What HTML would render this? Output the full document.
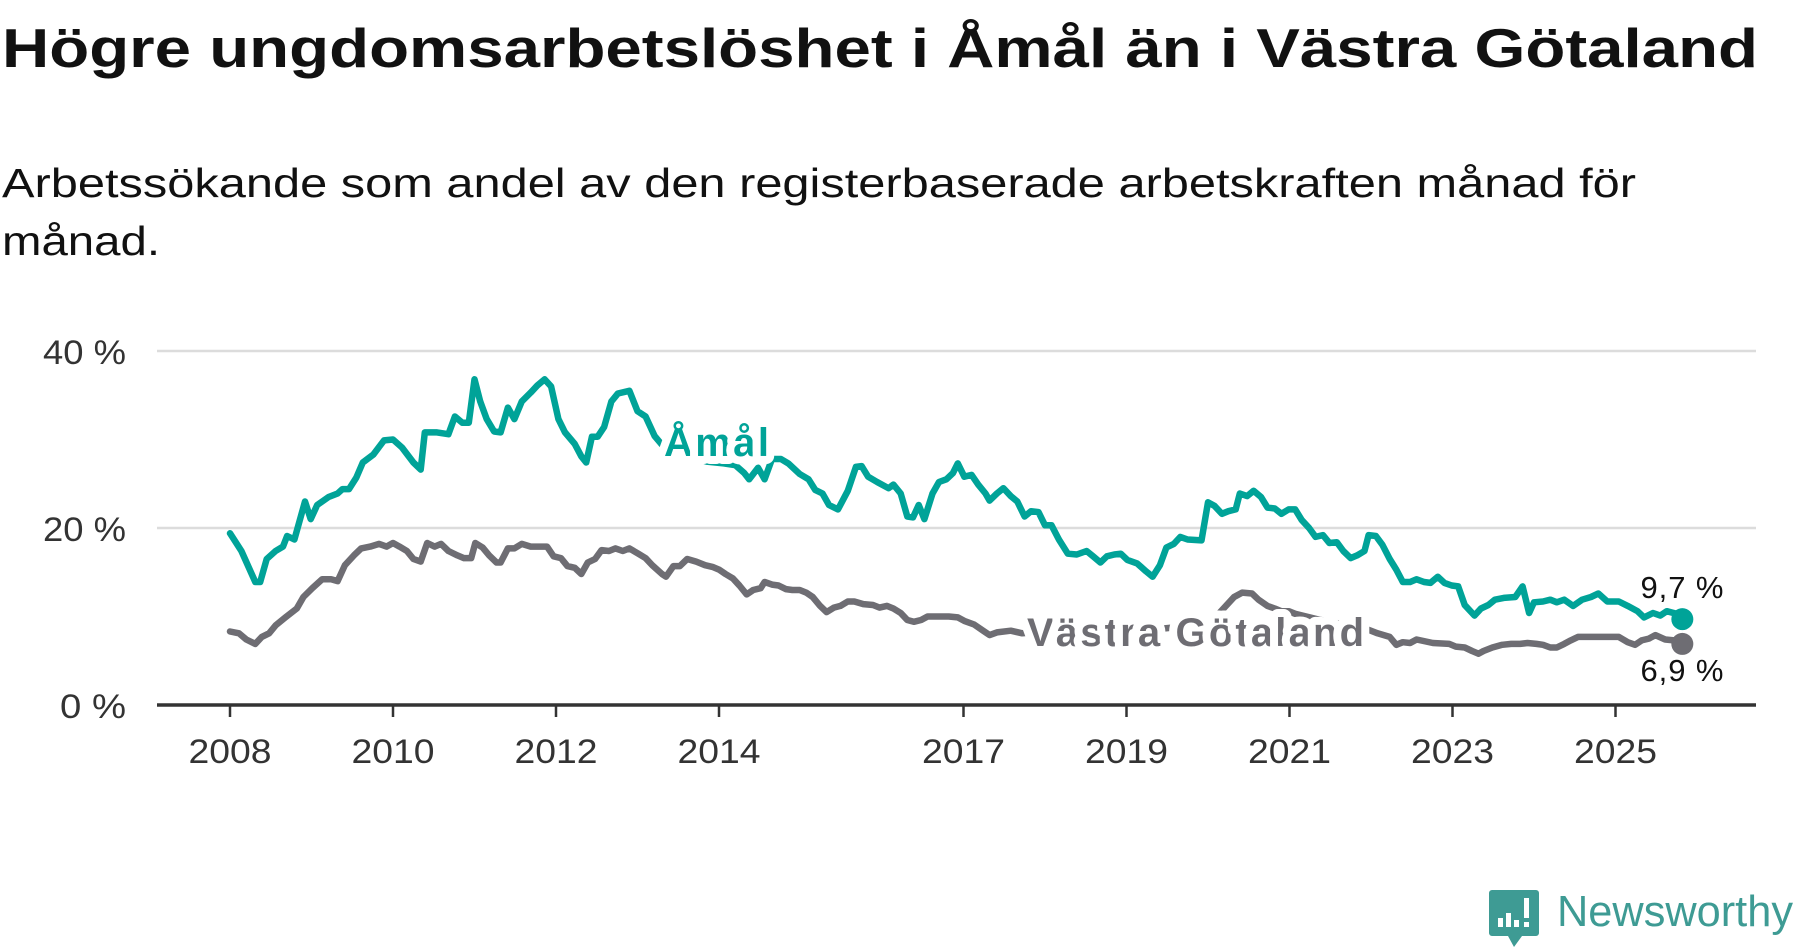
<!DOCTYPE html>
<html><head><meta charset="utf-8"><style>
html,body{margin:0;padding:0;background:#fff;width:1800px;height:948px;overflow:hidden}
text{font-family:"Liberation Sans","DejaVu Sans",sans-serif}
</style></head><body>
<svg id="chart" width="1800" height="948" viewBox="0 0 1800 948">
<text x="2" y="67" font-size="55" font-weight="bold" fill="#111" textLength="1756" lengthAdjust="spacingAndGlyphs">Högre ungdomsarbetslöshet i Åmål än i Västra Götaland</text>
<text x="2" y="197" font-size="41" fill="#111" textLength="1634" lengthAdjust="spacingAndGlyphs">Arbetssökande som andel av den registerbaserade arbetskraften månad för</text>
<text x="2" y="255" font-size="41" fill="#111" textLength="158" lengthAdjust="spacingAndGlyphs">månad.</text>
<g id="grid"></g><g id="axes"></g><g id="series"></g><g id="labels"></g>
<g>
<path d="M1492 890 h44 a3 3 0 0 1 3 3 v40 a3 3 0 0 1 -3 3 h-14 l-8 11 l-6 -11 h-16 a3 3 0 0 1 -3 -3 v-40 a3 3 0 0 1 3 -3z" fill="#3e9b94"/>
<rect x="1498" y="918" width="5" height="9" fill="#fff"/><rect x="1506" y="913" width="5" height="14" fill="#fff"/><rect x="1514" y="920" width="5" height="7" fill="#fff"/><rect x="1524" y="898" width="5" height="20" fill="#fff"/><rect x="1524" y="922" width="5" height="5" fill="#fff"/>
<text x="1557" y="926" font-size="44" fill="#3e9b94" textLength="236" lengthAdjust="spacingAndGlyphs">Newsworthy</text>
</g>
</svg>
<script>
const yearTicks = [2008, 2010, 2012, 2014, 2017, 2019, 2021, 2023, 2025];
const yTicks = [0, 20, 40];
const amalT = [0.00,0.14,0.31,0.37,0.45,0.56,0.65,0.70,0.79,0.92,0.99,1.07,1.21,1.32,1.38,1.46,1.55,1.63,1.76,1.89,2.00,2.11,2.25,2.34,2.39,2.54,2.68,2.76,2.85,2.93,3.00,3.07,3.15,3.24,3.32,3.41,3.49,3.58,3.69,3.77,3.86,3.94,4.03,4.11,4.23,4.31,4.37,4.44,4.51,4.59,4.68,4.76,4.90,5.00,5.10,5.21,5.30,5.42,5.63,5.85,6.06,6.20,6.31,6.37,6.48,6.56,6.65,6.76,6.85,6.99,7.10,7.18,7.27,7.35,7.46,7.58,7.68,7.75,7.83,7.94,8.08,8.14,8.23,8.31,8.38,8.45,8.52,8.62,8.70,8.79,8.87,8.93,9.01,9.10,9.18,9.27,9.32,9.41,9.49,9.58,9.66,9.75,9.83,9.92,10.00,10.08,10.17,10.28,10.39,10.51,10.59,10.68,10.76,10.85,10.93,11.01,11.13,11.24,11.32,11.41,11.49,11.58,11.66,11.75,11.92,12.00,12.08,12.17,12.25,12.34,12.39,12.48,12.56,12.65,12.73,12.82,12.90,12.99,13.07,13.15,13.24,13.32,13.41,13.49,13.58,13.66,13.75,13.83,13.92,13.97,14.06,14.14,14.23,14.31,14.39,14.48,14.56,14.65,14.73,14.82,14.90,14.99,15.07,15.15,15.27,15.35,15.44,15.52,15.63,15.77,15.86,15.94,16.00,16.11,16.20,16.28,16.37,16.48,16.59,16.70,16.79,16.90,17.04,17.15,17.27,17.35,17.46,17.55,17.63,17.75,17.82];
const amalV = [19.4,17.4,13.9,13.9,16.5,17.4,17.9,19.1,18.7,23.0,21.0,22.6,23.5,23.9,24.4,24.4,25.7,27.4,28.3,29.9,30.0,29.1,27.4,26.6,30.8,30.8,30.6,32.6,31.9,31.9,36.8,34.3,32.3,30.9,30.8,33.6,32.3,34.3,35.3,36.1,36.8,36.0,32.3,30.8,29.5,28.1,27.4,30.3,30.3,31.4,34.3,35.2,35.5,33.2,32.6,30.4,29.4,28.6,28.1,27.5,27.3,27.1,26.2,25.5,26.8,25.5,27.8,27.8,27.3,26.1,25.5,24.3,23.9,22.6,22.1,24.2,26.9,27.0,25.8,25.2,24.5,24.9,23.9,21.3,21.2,22.6,21.0,23.9,25.2,25.5,26.2,27.3,25.8,26.0,24.9,23.9,23.1,23.9,24.5,23.6,23.0,21.3,21.9,21.8,20.3,20.3,18.7,17.1,17.0,17.4,16.8,16.1,16.8,17.0,17.1,16.4,16.0,15.1,14.5,15.8,17.8,18.2,19.0,18.7,18.6,22.9,22.5,21.6,21.9,22.1,23.9,23.6,24.2,23.5,22.3,22.2,21.6,22.1,22.1,20.9,20.0,19.0,19.2,18.3,18.4,17.4,16.6,16.9,17.4,19.2,19.1,18.1,16.5,15.3,13.9,13.9,14.2,13.9,13.8,14.5,13.8,13.5,13.4,11.3,10.1,10.9,11.3,11.9,12.1,12.2,13.4,10.4,11.6,11.7,11.9,11.6,11.9,11.2,11.9,12.2,12.6,11.7,11.7,11.2,10.6,9.9,10.4,10.1,10.6,10.3,9.7];
const vgT = [0.00,0.11,0.20,0.31,0.39,0.48,0.56,0.68,0.82,0.90,1.01,1.13,1.24,1.32,1.41,1.52,1.61,1.72,1.83,1.92,2.00,2.08,2.17,2.25,2.34,2.42,2.51,2.59,2.68,2.79,2.87,2.96,3.01,3.10,3.18,3.27,3.32,3.41,3.49,3.58,3.69,3.89,3.97,4.06,4.14,4.23,4.31,4.39,4.48,4.56,4.65,4.73,4.82,4.90,5.01,5.10,5.18,5.30,5.35,5.44,5.52,5.61,5.72,5.83,5.92,6.00,6.08,6.17,6.25,6.34,6.42,6.51,6.56,6.65,6.73,6.82,6.90,6.99,7.07,7.15,7.24,7.32,7.41,7.49,7.58,7.66,7.77,7.89,7.97,8.06,8.14,8.23,8.31,8.39,8.48,8.56,8.82,8.93,9.01,9.13,9.24,9.32,9.41,9.58,9.72,9.86,10.28,10.70,11.13,11.41,11.83,12.11,12.32,12.42,12.54,12.62,12.73,12.82,12.90,12.99,13.07,13.38,13.66,13.94,14.08,14.23,14.31,14.39,14.48,14.56,14.76,14.96,15.04,15.15,15.24,15.32,15.38,15.49,15.61,15.72,15.83,15.92,16.03,16.11,16.20,16.28,16.37,16.45,16.54,16.76,17.04,17.15,17.24,17.32,17.41,17.49,17.61,17.72,17.82];
const vgV = [8.3,8.1,7.4,6.9,7.7,8.1,9.0,9.9,10.9,12.2,13.2,14.2,14.2,14.0,15.8,16.9,17.7,17.9,18.2,17.9,18.3,17.9,17.4,16.5,16.2,18.3,17.9,18.2,17.4,16.9,16.6,16.6,18.3,17.8,16.9,16.1,16.1,17.7,17.7,18.2,17.9,17.9,16.8,16.6,15.7,15.5,14.8,16.1,16.5,17.5,17.4,17.7,17.4,17.7,17.1,16.6,15.8,14.8,14.5,15.7,15.7,16.5,16.2,15.8,15.6,15.3,14.8,14.3,13.5,12.5,13.0,13.2,13.9,13.6,13.5,13.1,13.0,13.0,12.7,12.2,11.2,10.5,11.0,11.2,11.7,11.7,11.4,11.3,11.0,11.2,10.9,10.4,9.6,9.4,9.6,10.0,10.0,9.9,9.5,9.1,8.4,7.9,8.2,8.4,8.1,8.2,8.1,8.3,8.2,8.6,9.0,10.1,12.2,12.7,12.6,11.9,11.2,10.9,10.6,10.6,10.3,9.6,9.1,8.6,8.1,7.7,6.8,7.1,7.0,7.4,7.0,6.9,6.6,6.5,6.1,5.8,6.1,6.5,6.8,6.9,6.9,7.0,6.9,6.8,6.5,6.5,6.9,7.3,7.7,7.7,7.7,7.1,6.8,7.3,7.5,7.9,7.4,7.3,6.9];
const endLabels = ["9,7 %", "6,9 %"];

const NS='http://www.w3.org/2000/svg';
const X0=157, X1=1756;
function xs(t){return 230 + t*81.5;}
function ys(v){return 705 - v*8.85;}
function mk(tag, attrs, parent){const e=document.createElementNS(NS,tag);for(const k in attrs)e.setAttribute(k,attrs[k]);parent.appendChild(e);return e;}
const grid=document.getElementById('grid'), axes=document.getElementById('axes'), series=document.getElementById('series'), labels=document.getElementById('labels');
yTicks.forEach(v=>{
  if(v>0){const g=mk('line',{x1:X0,x2:X1,y1:ys(v),y2:ys(v),stroke:'#dcdcdc','stroke-width':2.5},grid);
  
  }
  const t=mk('text',{x:126,y:ys(v)+13,'font-size':34,fill:'#333','text-anchor':'end',textLength:(v===0?66:83),lengthAdjust:'spacingAndGlyphs'},axes);
  t.textContent=v+' %';
  
  
});
const ax=mk('line',{x1:X0,x2:X1,y1:705,y2:705,stroke:'#333','stroke-width':3.5},axes);


yearTicks.forEach(y=>{
  const x=xs(y-2008);
  const tk=mk('line',{x1:x,x2:x,y1:705,y2:717,stroke:'#333','stroke-width':2.5},axes);
  
  
  const t=mk('text',{x:x,y:763,'font-size':34,fill:'#333','text-anchor':'middle',textLength:83,lengthAdjust:'spacingAndGlyphs'},axes);
  t.textContent=y;
  
  
});
function line(T,V,color,name){
  const d=T.map((t,i)=>(i?'L':'M')+xs(t).toFixed(1)+' '+ys(V[i]).toFixed(1)).join(' ');
  const p=mk('path',{d:d,fill:'none',stroke:color,'stroke-width':6.5,'stroke-linejoin':'round','stroke-linecap':'round'},series);
  
  
  const n=T.length-1;
  const c=mk('circle',{cx:xs(T[n]),cy:ys(V[n]),r:11,fill:color},series);
  
  
}
line(vgT,vgV,'#6e6d73','vastra-gotaland');
line(amalT,amalV,'#00a398','amal');
function lbl(txt,x,y,size,color,weight,name,halo){
  const t=mk('text',{x:x,y:y,'font-size':size,fill:color,'font-weight':weight},labels);
  if(halo){t.setAttribute('stroke','#fff');t.setAttribute('stroke-width',halo);t.setAttribute('paint-order','stroke');t.setAttribute('stroke-linejoin','round');}
  t.textContent=txt;
  
  
  return t;
}
lbl('Åmål',664,456,40,'#00a398','bold','amal-series-label',16).setAttribute('textLength','105');
lbl('Västra Götaland',1027,646,40,'#6e6d73','bold','vastra-gotaland-series-label',16).setAttribute('textLength','337');
const la=lbl(endLabels[0],1682,598,31,'#111','normal','amal-end-value',8); la.setAttribute('text-anchor','middle'); la.setAttribute('textLength','83');
const lb=lbl(endLabels[1],1682,681,31,'#111','normal','vastra-gotaland-end-value',8); lb.setAttribute('text-anchor','middle'); lb.setAttribute('textLength','83');
</script>
</body></html>
